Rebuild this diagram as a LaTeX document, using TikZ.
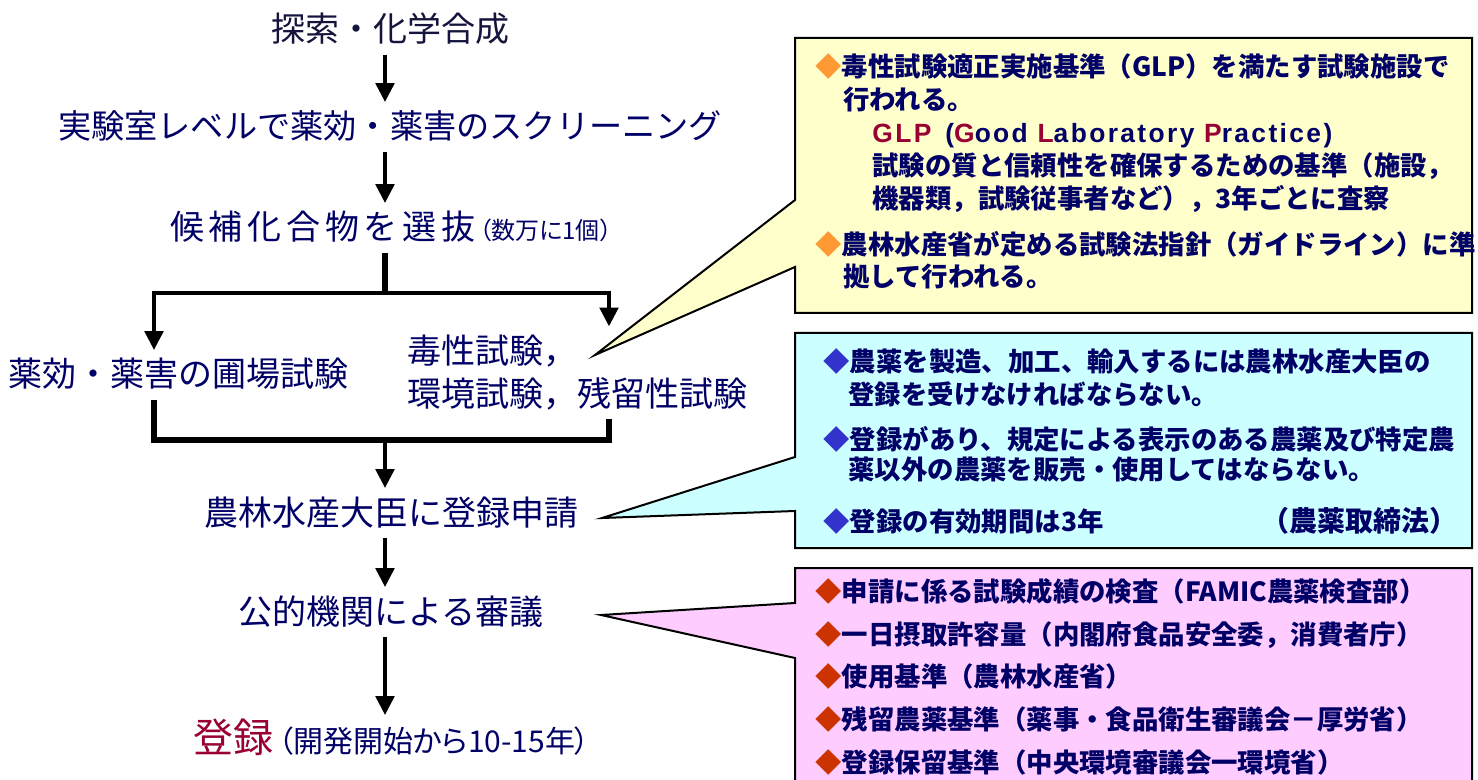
\documentclass[tikz,border=0pt]{standalone}
\usepackage{fontspec}
\setmainfont{Noto Sans CJK JP}
\newfontfamily\latinbold{Liberation Sans}
\usetikzlibrary{arrows.meta}

\definecolor{navytext}{RGB}{0,0,102}
\definecolor{inktext}{RGB}{20,20,60}
\definecolor{regred}{RGB}{153,0,51}
\definecolor{noteyellow}{RGB}{255,255,204}
\definecolor{notecyan}{RGB}{204,255,255}
\definecolor{notepink}{RGB}{255,204,255}
\definecolor{markorange}{RGB}{255,153,51}
\definecolor{markblue}{RGB}{51,51,204}
\definecolor{markred}{RGB}{204,51,0}

\newcommand\notemark[1]{\textcolor{#1}{◆}}

\tikzset{
  flowbase/.style={text=navytext,font=\fontsize{17}{21.5}\selectfont,inner xsep=0pt,inner ysep=4.2pt},
  flow/.style={flowbase,text height=14pt,text depth=2pt},
  link/.style={line width=2.4pt,-{Triangle[length=9.5pt,width=9pt]}},
  bar/.style={line width=2.6pt},
  callout/.style={draw=black,line width=1pt,line join=miter},
  notetext/.style={anchor=west,text=navytext,inner sep=0pt,text height=11pt,text depth=1.5pt,
    font=\fontsize{13.2}{15}\selectfont\bfseries},
}

\begin{document}
\begin{tikzpicture}[x=0.5pt,y=-0.5pt]
  \path[use as bounding box,fill=white] (0,0) rectangle (1478,780);

  % main flow
  \coordinate (axis) at (385,0);
  \node[flow,text=inktext] (explore) at (390,30) {探索・化学合成};
  \node[flow] (screen) at (390,127) {{\fontsize{16.6}{20}\selectfont 実験室レベルで薬効・薬害のスクリーニング}};
  \node[flow] (cand) at (391,228) {{\addfontfeature{LetterSpace=14}候補化合物を選抜}{\fontsize{12}{14}\selectfont\addfontfeature{RawFeature=+palt}\,（数万に1個）}};
  \node[flow,anchor=west] (field) at (8,375) {薬効・薬害の圃場試験};
  \node[flowbase,align=left,anchor=west] (tox) at (407,373) {毒性試験，\\環境試験，残留性試験};
  \node[flow] (apply) at (391,513) {農林水産大臣に登録申請};
  \node[flow] (review) at (391,612) {公的機関による審議};
  \node[flow] (reg) at (392,740) {{\fontsize{20}{22}\selectfont\textcolor{regred}{登録}}\hspace{2pt}{\fontsize{15}{17}\selectfont\addfontfeature{RawFeature=+palt}（開発開始から10-15年）}};

  \foreach \a/\b in {explore/screen,screen/cand,apply/review,review/reg}
    \draw[link] (\a.south -| axis) -- (\b.north -| axis);

  % branch and merge
  \coordinate (split) at (385,293);
  \coordinate (merge) at (385,440);
  \coordinate (lbr) at (154,0);
  \coordinate (rbr) at (609,0);
  \draw[bar] (cand.south -| axis) -- (split);
  \draw[link] (split) -| (lbr |- field.north);
  \draw[link] (split) -| (rbr |- tox.north);
  \draw[bar] (lbr |- field.south) |- (merge) -| (rbr |- tox.south);
  \draw[link] (merge) -- (apply.north -| axis);

  % callouts
  \draw[callout,fill=noteyellow] (795,38) -- (1472,38) -- (1472,313) -- (795,313)
    -- (795,267) -- (595,355) -- (795,200) -- cycle;
  \draw[callout,fill=notecyan] (795,333) -- (1472,333) -- (1472,548) -- (795,548)
    -- (795,511) -- (602,518) -- (795,457) -- cycle;
  \fill[notepink] (795,780) -- (795,658) -- (601,615) -- (795,603) -- (795,568)
    -- (1472,568) -- (1472,780) -- cycle;
  \draw[callout] (795,780) -- (795,658) -- (601,615) -- (795,603) -- (795,568)
    -- (1472,568) -- (1472,780);

  % yellow note
  \node[notetext] (glp1) at (815,67) {\notemark{markorange}毒性試験適正実施基準（GLP）を満たす試験施設で};
  \node[notetext] (glp2) at (843,100) {行われる。};
  \node[notetext] (glp3) at (872,133) {\latinbold\addfontfeature{LetterSpace=9}\textcolor{regred}{GLP}\hspace{7pt}(\textcolor{regred}{G}ood \textcolor{regred}{L}aboratory \textcolor{regred}{P}ractice)};
  \node[notetext] (glp4) at (872,166) {試験の質と信頼性を確保するための基準（施設，};
  \node[notetext] (glp5) at (872,199) {機器類，試験従事者など），3年ごとに査察};
  \node[notetext] (glp6) at (815,245) {\notemark{markorange}農林水産省が定める試験法指針（ガイドライン）に準};
  \node[notetext] (glp7) at (843,277) {拠して行われる。};

  % cyan note
  \node[notetext] (law1) at (823,362) {\notemark{markblue}農薬を製造、加工、輸入するには農林水産大臣の};
  \node[notetext] (law2) at (848,395) {登録を受けなければならない。};
  \node[notetext] (law3) at (823,440) {\notemark{markblue}登録があり、規定による表示のある農薬及び特定農};
  \node[notetext] (law4) at (848,470) {薬以外の農薬を販売・使用してはならない。};
  \node[notetext] (law5) at (823,522) {\notemark{markblue}登録の有効期間は3年};
  \node[notetext,anchor=east,font=\fontsize{14}{16}\selectfont\bfseries] (lawname) at (1458,522) {（農薬取締法）};

  % pink note
  \foreach \t [count=\i] in {申請に係る試験成績の検査（FAMIC農薬検査部）,
      一日摂取許容量（内閣府食品安全委，消費者庁）,
      使用基準（農林水産省）,
      残留農薬基準（薬事・食品衛生審議会－厚労省）,
      登録保留基準（中央環境審議会一環境省）}
    \node[notetext] (std\i) at (815,{549+42.8*\i}) {\notemark{markred}\t};
\end{tikzpicture}
\end{document}
